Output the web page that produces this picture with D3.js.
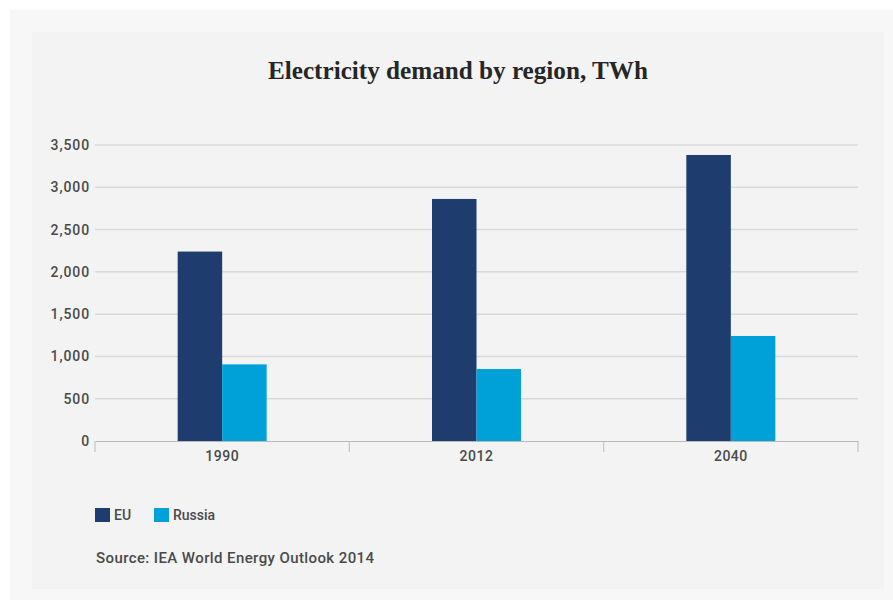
<!DOCTYPE html>
<html>
<head>
<meta charset="utf-8">
<script src="https://cdn.jsdelivr.net/npm/d3@7/dist/d3.min.js"></script>
<style>
  html, body { margin: 0; padding: 0; background: #ffffff; }
  svg { display: block; }
</style>
</head>
<body>
<svg id="chart" width="893" height="600"></svg>
<script>
// Electricity demand (TWh) by year and region
const years = ["1990", "2012", "2040"];
const regions = ["EU", "Russia"];
const euValues = [2240, 2862, 3382];
const russiaValues = [906, 851, 1242];
const yTicks = [0, 500, 1000, 1500, 2000, 2500, 3000, 3500];
const regionColors = ["#1e3c6e", "#00a0d8"];

const svg = d3.select("#chart");
const W = 893, H = 600;

// background frame and panel
svg.append("rect").attr("x", 0).attr("y", 0).attr("width", W).attr("height", H).attr("fill", "#ffffff");
svg.append("rect").attr("x", 10).attr("y", 10).attr("width", W - 10).attr("height", H - 10).attr("fill", "#f7f7f7");
svg.append("rect").attr("x", 32).attr("y", 32).attr("width", 852).attr("height", 557).attr("fill", "#f3f3f3");

// title
svg.append("text")
  .attr("x", 458).attr("y", 79)
  .attr("text-anchor", "middle")
  .attr("font-family", "'Liberation Serif', serif")
  .attr("font-weight", "bold")
  .attr("font-size", 26)
  .attr("fill", "#262626")
  .attr("textLength", 380)
  .attr("lengthAdjust", "spacingAndGlyphs")
  .text("Electricity demand by region, TWh");

const margin = { left: 95, right: 858, top: 145, bottom: 441 };

const x0 = d3.scaleBand().domain(years).range([margin.left, margin.right]).paddingInner(0).paddingOuter(0);
const y = d3.scaleLinear().domain([0, 3500]).range([margin.bottom, margin.top]);
const barW = 44.5;
const x1 = d3.scaleBand().domain(regions).range([x0.bandwidth() / 2 - barW, x0.bandwidth() / 2 + barW]).padding(0);

// gridlines
svg.append("g").selectAll("line").data(yTicks.filter(d => d > 0)).join("line")
  .attr("x1", margin.left).attr("x2", margin.right)
  .attr("y1", d => y(d)).attr("y2", d => y(d))
  .attr("stroke", "#d9d9d9").attr("stroke-width", 1.5);

// y axis labels
const yAxis = d3.axisLeft(y).tickValues(yTicks).tickSize(0).tickPadding(5).tickFormat(d3.format(","));
const gy = svg.append("g").attr("transform", `translate(${margin.left},0)`).call(yAxis);
gy.select(".domain").remove();
gy.selectAll("text")
  .attr("font-family", "Roboto, sans-serif")
  .attr("font-size", 14)
  .attr("font-weight", 500)
  .attr("letter-spacing", 0.9)
  .attr("fill", "#4a4a4a");

// bars
const data = years.map((yr, i) => ({ year: yr, values: [euValues[i], russiaValues[i]] }));
const groups = svg.append("g").selectAll("g").data(data).join("g")
  .attr("transform", d => `translate(${x0(d.year)},0)`);
groups.selectAll("rect").data(d => d.values.map((v, j) => ({ region: regions[j], value: v, j }))).join("rect")
  .attr("x", d => x1(d.region))
  .attr("width", x1.bandwidth())
  .attr("y", d => y(d.value))
  .attr("height", d => y(0) - y(d.value))
  .attr("fill", d => regionColors[d.j]);

// x axis
const xAxis = d3.axisBottom(x0).tickSize(0).tickPadding(10);
const gx = svg.append("g").attr("transform", `translate(0,${margin.bottom})`).call(xAxis);
gx.select(".domain").attr("stroke", "#b8b8b8").attr("stroke-width", 1.2);
gx.selectAll("text")
  .attr("font-family", "Roboto, sans-serif")
  .attr("font-size", 14)
  .attr("font-weight", 500)
  .attr("letter-spacing", 0.5)
  .attr("fill", "#4a4a4a");
// boundary tick marks between categories
const boundaries = [margin.left].concat(years.map(yr => x0(yr) + x0.bandwidth()));
svg.append("g").selectAll("line").data(boundaries).join("line")
  .attr("x1", d => d).attr("x2", d => d)
  .attr("y1", margin.bottom).attr("y2", margin.bottom + 11)
  .attr("stroke", "#c4c4c4").attr("stroke-width", 1.2);

// legend
const legend = svg.append("g").attr("transform", "translate(95,508)");
const legendX = [0, 59];
regions.forEach((r, i) => {
  legend.append("rect").attr("x", legendX[i]).attr("y", 0).attr("width", 15).attr("height", 14).attr("fill", regionColors[i]);
  legend.append("text").attr("x", legendX[i] + 19).attr("y", 12)
    .attr("font-family", "Roboto, sans-serif").attr("font-size", 14).attr("font-weight", 500)
    .attr("fill", "#4a4a4a").text(r);
});

// source note
svg.append("text")
  .attr("x", 96).attr("y", 563)
  .attr("font-family", "Roboto, sans-serif")
  .attr("font-size", 15)
  .attr("font-weight", 500)
  .attr("letter-spacing", 0.4)
  .attr("fill", "#4a4a4a")
  .text("Source: IEA World Energy Outlook 2014");
</script>
</body>
</html>
